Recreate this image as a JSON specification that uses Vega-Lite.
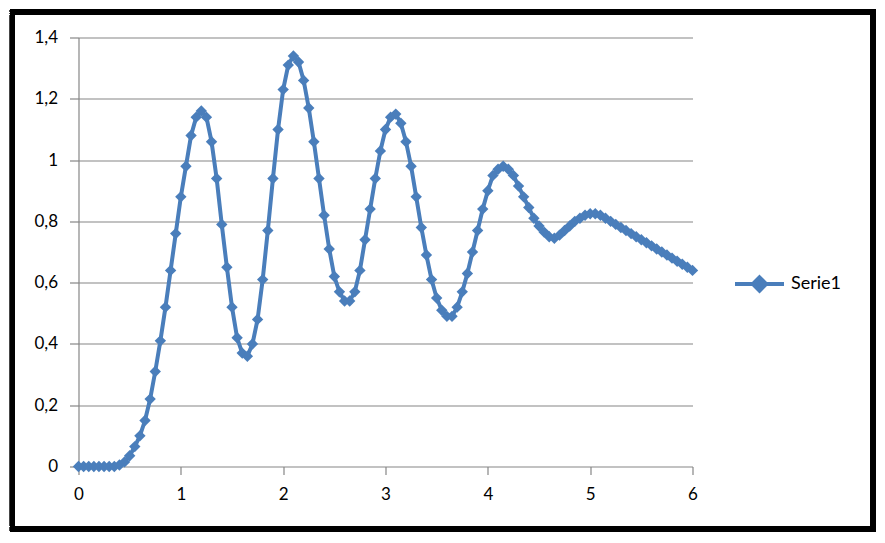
{
  "$schema": "https://vega.github.io/schema/vega-lite/v6.json",
  "width": 614,
  "height": 429,
  "autosize": {"type": "none"},
  "padding": {"left": 78.5, "top": 37.5, "right": 192.5, "bottom": 76.5},
  "background": "white",
  "config": {
    "view": {"stroke": null},
    "axis": {"labelFont": "Lato", "labelFontSize": 17, "labelColor": "#000000", "domainColor": "#868686", "tickColor": "#868686", "gridColor": "#868686", "domainWidth": 1.2, "gridWidth": 1.2, "tickWidth": 1.2},
    "legend": {"labelFont": "Lato", "labelFontSize": 18, "labelColor": "#000000"}
  },
  "data": {
    "values": [
      {"x": 0.00, "y": 0}, {"x": 0.05, "y": 0}, {"x": 0.10, "y": 0}, {"x": 0.15, "y": 0},
      {"x": 0.20, "y": 0}, {"x": 0.25, "y": 0}, {"x": 0.30, "y": 0}, {"x": 0.35, "y": 0},
      {"x": 0.40, "y": 0.005}, {"x": 0.45, "y": 0.015}, {"x": 0.50, "y": 0.035}, {"x": 0.55, "y": 0.065},
      {"x": 0.60, "y": 0.10}, {"x": 0.65, "y": 0.15}, {"x": 0.70, "y": 0.22}, {"x": 0.75, "y": 0.31},
      {"x": 0.80, "y": 0.41}, {"x": 0.85, "y": 0.52}, {"x": 0.90, "y": 0.64}, {"x": 0.95, "y": 0.76},
      {"x": 1.00, "y": 0.88}, {"x": 1.05, "y": 0.98}, {"x": 1.10, "y": 1.08}, {"x": 1.15, "y": 1.14},
      {"x": 1.20, "y": 1.16}, {"x": 1.25, "y": 1.14}, {"x": 1.30, "y": 1.06}, {"x": 1.35, "y": 0.94},
      {"x": 1.40, "y": 0.79}, {"x": 1.45, "y": 0.65}, {"x": 1.50, "y": 0.52}, {"x": 1.55, "y": 0.42},
      {"x": 1.60, "y": 0.37}, {"x": 1.65, "y": 0.36}, {"x": 1.70, "y": 0.40}, {"x": 1.75, "y": 0.48},
      {"x": 1.80, "y": 0.61}, {"x": 1.85, "y": 0.77}, {"x": 1.90, "y": 0.94}, {"x": 1.95, "y": 1.10},
      {"x": 2.00, "y": 1.23}, {"x": 2.05, "y": 1.31}, {"x": 2.10, "y": 1.34}, {"x": 2.15, "y": 1.32},
      {"x": 2.20, "y": 1.26}, {"x": 2.25, "y": 1.17}, {"x": 2.30, "y": 1.06}, {"x": 2.35, "y": 0.94},
      {"x": 2.40, "y": 0.82}, {"x": 2.45, "y": 0.71}, {"x": 2.50, "y": 0.62}, {"x": 2.55, "y": 0.57},
      {"x": 2.60, "y": 0.54}, {"x": 2.65, "y": 0.54}, {"x": 2.70, "y": 0.57}, {"x": 2.75, "y": 0.64},
      {"x": 2.80, "y": 0.74}, {"x": 2.85, "y": 0.84}, {"x": 2.90, "y": 0.94}, {"x": 2.95, "y": 1.03},
      {"x": 3.00, "y": 1.10}, {"x": 3.05, "y": 1.14}, {"x": 3.10, "y": 1.15}, {"x": 3.15, "y": 1.12},
      {"x": 3.20, "y": 1.06}, {"x": 3.25, "y": 0.98}, {"x": 3.30, "y": 0.88}, {"x": 3.35, "y": 0.78},
      {"x": 3.40, "y": 0.69}, {"x": 3.45, "y": 0.61}, {"x": 3.50, "y": 0.55}, {"x": 3.55, "y": 0.51},
      {"x": 3.60, "y": 0.49}, {"x": 3.65, "y": 0.49}, {"x": 3.70, "y": 0.52}, {"x": 3.75, "y": 0.57},
      {"x": 3.80, "y": 0.63}, {"x": 3.85, "y": 0.70}, {"x": 3.90, "y": 0.77}, {"x": 3.95, "y": 0.84},
      {"x": 4.00, "y": 0.90}, {"x": 4.05, "y": 0.95}, {"x": 4.10, "y": 0.97}, {"x": 4.15, "y": 0.98},
      {"x": 4.20, "y": 0.97}, {"x": 4.25, "y": 0.95}, {"x": 4.30, "y": 0.915}, {"x": 4.35, "y": 0.88},
      {"x": 4.40, "y": 0.845}, {"x": 4.45, "y": 0.81}, {"x": 4.50, "y": 0.785}, {"x": 4.55, "y": 0.765},
      {"x": 4.60, "y": 0.75}, {"x": 4.65, "y": 0.745}, {"x": 4.70, "y": 0.755}, {"x": 4.75, "y": 0.77},
      {"x": 4.80, "y": 0.785}, {"x": 4.85, "y": 0.80}, {"x": 4.90, "y": 0.81}, {"x": 4.95, "y": 0.82},
      {"x": 5.00, "y": 0.825}, {"x": 5.05, "y": 0.825}, {"x": 5.10, "y": 0.82}, {"x": 5.15, "y": 0.81},
      {"x": 5.20, "y": 0.80}, {"x": 5.25, "y": 0.79}, {"x": 5.30, "y": 0.78}, {"x": 5.35, "y": 0.77},
      {"x": 5.40, "y": 0.76}, {"x": 5.45, "y": 0.75}, {"x": 5.50, "y": 0.74}, {"x": 5.55, "y": 0.73},
      {"x": 5.60, "y": 0.72}, {"x": 5.65, "y": 0.71}, {"x": 5.70, "y": 0.70}, {"x": 5.75, "y": 0.69},
      {"x": 5.80, "y": 0.68}, {"x": 5.85, "y": 0.67}, {"x": 5.90, "y": 0.66}, {"x": 5.95, "y": 0.65},
      {"x": 6.00, "y": 0.64}
    ]
  },
  "layer": [
    {
      "mark": {"type": "rect", "fill": null, "stroke": "#000000", "strokeWidth": 5, "clip": false},
      "encoding": {
        "x": {"datum": -0.645, "type": "quantitative", "scale": {"domain": [0, 6], "nice": false, "zero": false}},
        "x2": {"datum": 7.762},
        "y": {"datum": 1.482, "type": "quantitative", "scale": {"domain": [0, 1.4], "nice": false, "zero": false}},
        "y2": {"datum": -0.204}
      }
    },
    {
      "mark": {"type": "line", "strokeWidth": 4, "point": {"shape": "diamond", "size": 130, "filled": true, "strokeWidth": 1}},
      "encoding": {
        "x": {
          "field": "x", "type": "quantitative", "title": null,
          "scale": {"domain": [0, 6], "nice": false, "zero": false},
          "axis": {"values": [0, 1, 2, 3, 4, 5, 6], "format": "d", "grid": false, "domain": false, "tickSize": 8, "labelPadding": 12, "labelFlush": false}
        },
        "y": {
          "field": "y", "type": "quantitative", "title": null,
          "scale": {"domain": [0, 1.4], "nice": false, "zero": false},
          "axis": {"values": [0, 0.2, 0.4, 0.6, 0.8, 1, 1.2, 1.4], "grid": true, "tickSize": 9, "labelPadding": 12, "format": "~g", "labelExpr": "replace(datum.label, '.', ',')", "labelFlush": false}
        },
        "color": {
          "datum": "Serie1", "type": "nominal", "title": null,
          "scale": {"range": ["#4A7EBB"]},
          "legend": {"orient": "none", "legendX": 654.5, "legendY": 220, "padding": 0, "symbolType": "M-1,0L1,0M0,-0.27L0.27,0L0,0.27L-0.27,0Z", "symbolSize": 2400, "symbolStrokeWidth": 4, "symbolFillColor": "#4A7EBB", "symbolStrokeColor": "#4A7EBB", "labelOffset": 5}
        }
      }
    }
  ]
}
